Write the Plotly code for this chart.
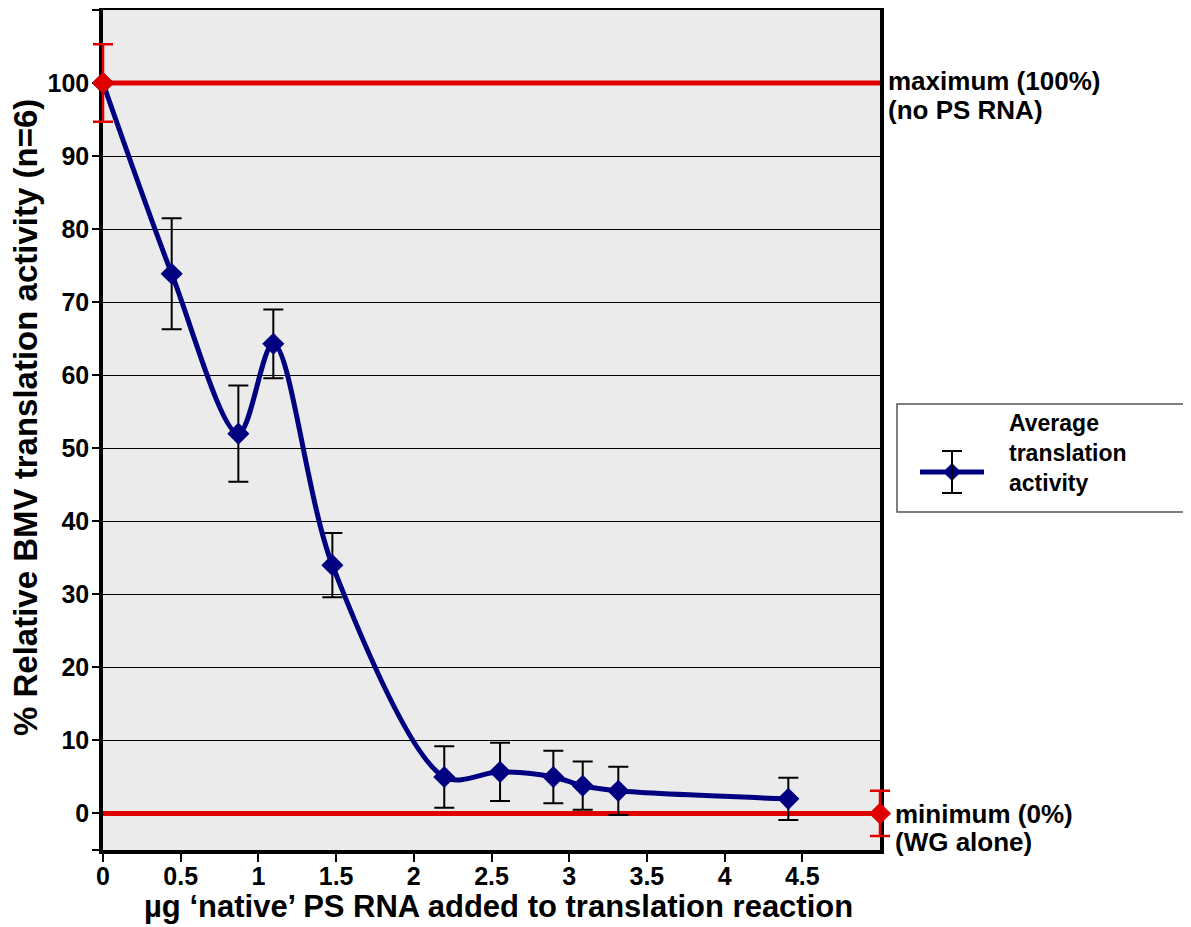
import plotly.graph_objects as go

# ---------------- data ----------------
ps_rna_ug = [0, 0.442, 0.871, 1.096, 1.476, 2.196, 2.555, 2.898, 3.087, 3.316, 4.41]
activity = [100, 73.9, 52.0, 64.3, 34.0, 5.0, 5.7, 5.0, 3.8, 3.1, 2.0]
activity_err = [0, 7.6, 6.6, 4.7, 4.4, 4.2, 4.0, 3.6, 3.3, 3.3, 2.9]

max_x = [0, 5]
max_y = [100, 100]
max_err = 5.3
min_x = [0, 5]
min_y = [0, 0]
min_err = 3.1

x_range = [0, 5]
y_range = [-5, 110]
x_ticks = [0, 0.5, 1, 1.5, 2, 2.5, 3, 3.5, 4, 4.5]
x_tick_labels = ["0", "0.5", "1", "1.5", "2", "2.5", "3", "3.5", "4", "4.5"]
y_ticks = [-5, 0, 10, 20, 30, 40, 50, 60, 70, 80, 90, 100, 110]
y_tick_labels = ["", "0", "10", "20", "30", "40", "50", "60", "70", "80", "90", "100", ""]

legend_lines = ["Average", "translation", "activity"]
max_label = ["maximum (100%)", "(no PS RNA)"]
min_label = ["minimum (0%)", "(WG alone)"]
x_title = "µg ‘native’ PS RNA added to translation reaction"
y_title = "% Relative BMV translation activity (n=6)"

# ---------------- layout geometry (screen px; page body has an 8px margin) ----------------
OFF = 8
SCR_W, SCR_H = 1191, 927
PL, PR, PT, PB = 103, 880, 10, 850          # plot area in screen px
W, H = SCR_W - OFF, SCR_H - OFF


def px(xs):
    return (xs - OFF) / W


def py(ys):
    return (SCR_H - ys) / H


# helper overlay axes spanning the whole figure, aligned with the data axes,
# so that the red end-point error bars sitting on the plot border are not clipped
ux = (PR - PL) / (x_range[1] - x_range[0])
uy = (PB - PT) / (y_range[1] - y_range[0])
x2_range = [x_range[0] + (OFF - PL) / ux, x_range[0] + (SCR_W - PL) / ux]
y2_range = [y_range[0] - (SCR_H - PB) / uy, y_range[1] + (PT - OFF) / uy]

FONT = "Liberation Sans, Arial, sans-serif"
RED = "#E00000"
NAVY = "#000080"
PLOT_BG = "#EBEBEB"

fig = go.Figure()

# red reference lines
fig.add_trace(go.Scatter(x=min_x, y=min_y, mode="lines",
                         line=dict(color=RED, width=5), showlegend=False,
                         hoverinfo="skip"))
fig.add_trace(go.Scatter(x=max_x, y=max_y, mode="lines",
                         line=dict(color=RED, width=5), showlegend=False,
                         hoverinfo="skip"))

# main series
fig.add_trace(go.Scatter(
    x=ps_rna_ug, y=activity, mode="lines+markers",
    line=dict(color=NAVY, width=5, shape="spline", smoothing=0.9),
    marker=dict(symbol="diamond", size=17, color=NAVY),
    error_y=dict(type="data", array=activity_err, visible=True,
                 color="black", thickness=2, width=10),
    showlegend=False, cliponaxis=False))

# red end markers with error bars (on the full-figure helper axes)
fig.add_trace(go.Scatter(
    x=[max_x[0]], y=[max_y[0]], mode="markers", xaxis="x2", yaxis="y2",
    marker=dict(symbol="diamond", size=17, color=RED),
    error_y=dict(type="constant", value=max_err, visible=True,
                 color=RED, thickness=2.5, width=10),
    showlegend=False, cliponaxis=False))
fig.add_trace(go.Scatter(
    x=[min_x[-1]], y=[min_y[-1]], mode="markers", xaxis="x2", yaxis="y2",
    marker=dict(symbol="diamond", size=17, color=RED),
    error_y=dict(type="constant", value=min_err, visible=True,
                 color=RED, thickness=2.5, width=10),
    showlegend=False, cliponaxis=False))

# ---------------- plot background + manual legend ----------------
shapes = [
    dict(type="rect", xref="paper", yref="paper", layer="below",
         x0=px(PL), x1=px(PR), y0=py(PB), y1=py(PT),
         line=dict(width=0), fillcolor=PLOT_BG),
    dict(type="rect", xref="paper", yref="paper",
         x0=px(897), x1=px(1190), y0=py(512), y1=py(404),
         line=dict(color="#555555", width=1.5), fillcolor="white"),
    dict(type="line", xref="paper", yref="paper",
         x0=px(920), x1=px(984), y0=py(472), y1=py(472),
         line=dict(color=NAVY, width=5)),
    dict(type="path", xref="paper", yref="paper",
         path=f"M {px(952)} {py(463)} L {px(961)} {py(472)} L {px(952)} {py(481)} L {px(943)} {py(472)} Z",
         fillcolor=NAVY, line=dict(color=NAVY, width=0)),
    dict(type="line", xref="paper", yref="paper",
         x0=px(952), x1=px(952), y0=py(451), y1=py(493),
         line=dict(color="black", width=2)),
    dict(type="line", xref="paper", yref="paper",
         x0=px(942), x1=px(962), y0=py(451), y1=py(451),
         line=dict(color="black", width=2)),
    dict(type="line", xref="paper", yref="paper",
         x0=px(942), x1=px(962), y0=py(493), y1=py(493),
         line=dict(color="black", width=2)),
]

annotations = []


def add_text(text, xs, ys, size, xanchor="left", angle=0):
    annotations.append(dict(
        text=f"<b>{text}</b>", xref="paper", yref="paper",
        x=px(xs), y=py(ys), xanchor=xanchor, yanchor="middle", align="left",
        showarrow=False, textangle=angle,
        font=dict(family=FONT, size=size, color="black")))


add_text("<br>".join(legend_lines), 1007, 453, 23)
for line_text, yc in zip(max_label, [81, 110]):
    add_text(line_text, 886, yc, 26)
for line_text, yc in zip(min_label, [814, 842]):
    add_text(line_text, 893, yc, 26)

add_text(x_title, 498, 906, 31, xanchor="center")
add_text(y_title, 25, 418, 33, xanchor="center", angle=-90)

fig.update_layout(
    width=W, height=H,
    margin=dict(l=0, r=0, t=0, b=0, pad=0, autoexpand=False),
    paper_bgcolor="white",
    plot_bgcolor="rgba(0,0,0,0)",
    font=dict(family=FONT, color="black"),
    shapes=shapes,
    annotations=annotations,
    showlegend=False,
    xaxis=dict(
        domain=[px(PL), px(PR)], anchor="y",
        range=x_range, tickmode="array", tickvals=x_ticks, ticktext=x_tick_labels,
        ticks="outside", ticklen=8, tickwidth=2, tickcolor="black",
        showgrid=False, zeroline=False, automargin=False,
        showline=True, linewidth=3.5, linecolor="black", mirror=True,
        ticklabelstandoff=-7,
        tickfont=dict(family=FONT, size=25, color="black", weight="bold"),
    ),
    yaxis=dict(
        domain=[py(PB), py(PT)], anchor="x",
        range=y_range, tickmode="array", tickvals=y_ticks, ticktext=y_tick_labels,
        ticks="outside", ticklen=7, tickwidth=1.5, tickcolor="black",
        showgrid=True, gridcolor="black", gridwidth=1, zeroline=False,
        automargin=False,
        showline=True, linewidth=3.5, linecolor="black", mirror=True,
        ticklabelstandoff=-2,
        tickfont=dict(family=FONT, size=25, color="black", weight="bold"),
    ),
    xaxis2=dict(domain=[0, 1], anchor="y2", range=x2_range, visible=False,
                showgrid=False, zeroline=False, fixedrange=True),
    yaxis2=dict(domain=[0, 1], anchor="x2", range=y2_range, visible=False,
                showgrid=False, zeroline=False, fixedrange=True),
)

fig.write_html("out.html")
